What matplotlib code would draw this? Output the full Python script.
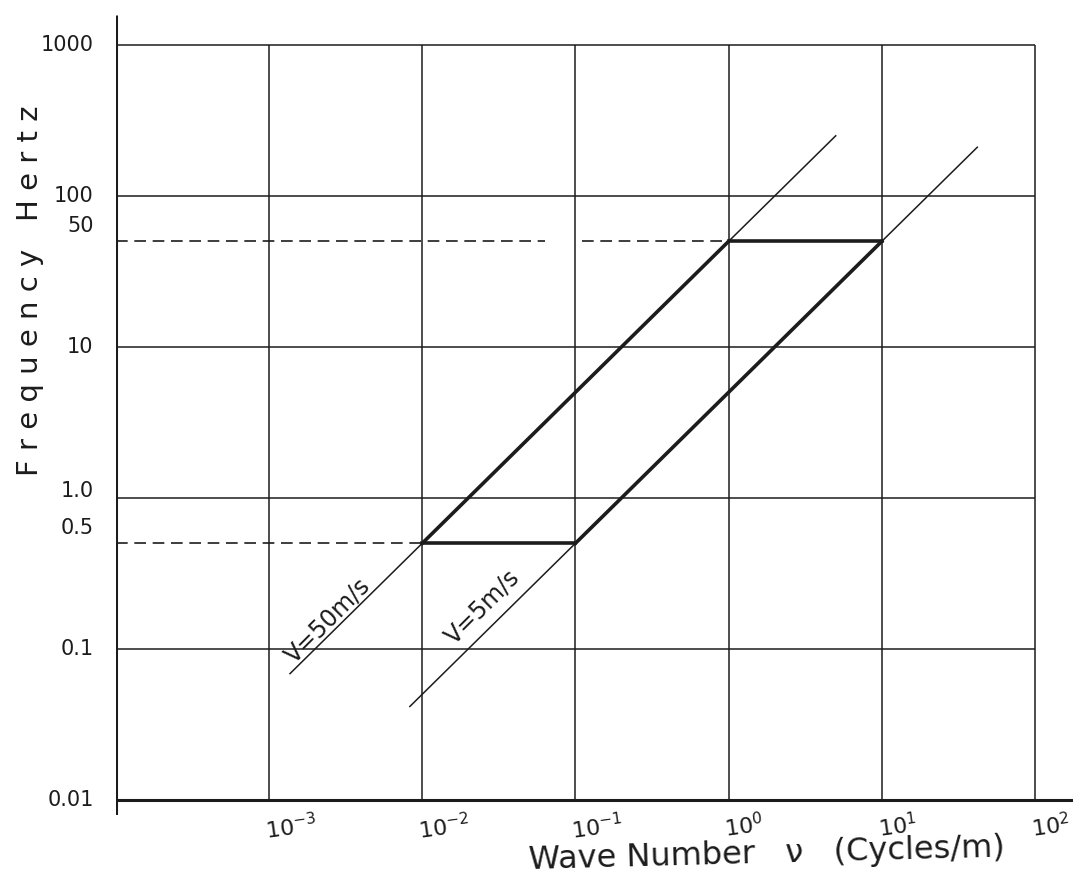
"""
Frequency vs wave number for two wind speeds (V = 50 m/s and V = 5 m/s),
f = V * k, with the 0.5 - 50 Hz band marked.
"""

import matplotlib.pyplot as plt
from matplotlib import transforms

# --- data -------------------------------------------------------------------
speeds = [50, 5]                       # m/s
speed_labels = ["V=50m/s", "V=5m/s"]
line_k_ranges = [(0.00137, 5.0), (0.0083, 42.0)]   # extent of the thin lines
label_k = [0.00242, 0.0249]            # where the speed label sits
label_f = [0.155, 0.19]

band_f = [0.5, 50]                     # Hz, bounds of the band of interest
band_k_50 = (0.01, 1.0)                # V=50 segment inside the band
band_k_5 = (0.1, 10.0)                 # V=5 segment inside the band

dash_50_segments = [(1e-4, 0.063), (0.11, 1.0)]
dash_05_segments = [(1e-4, 0.01)]

ygrid = [0.1, 1, 10, 100, 1000]
xgrid = [1e-3, 1e-2, 1e-1, 1e0, 1e1, 1e2]
ytick_vals = [1000, 100, 50, 10, 1.0, 0.5, 0.1, 0.01]
ytick_text = ["1000", "100", "50", "10", "1.0", "0.5", "0.1", "0.01"]
xtick_text = ["$10^{-3}$", "$10^{-2}$", "$10^{-1}$", "$10^{0}$", "$10^{1}$", "$10^{2}$"]

INK = '#1c1c1c'

fig = plt.figure(figsize=(10.73, 8.8), dpi=100)
ax = fig.add_axes([0.108, 0.074, 0.892, 0.911])
ax.set_xscale('log')
ax.set_yscale('log')
ax.set_xlim(1e-4, 10 ** 2.248)
ax.set_ylim(10 ** -2.1, 10 ** 3.21)
ax.axis('off')

# grid
ax.hlines(ygrid, 1e-4, 1e2, color=INK, lw=1.1)
ax.vlines(xgrid, 0.01, 1000, color=INK, lw=1.1)

# axes lines
ax.vlines(1e-4, 10 ** -2.1, 10 ** 3.2, color=INK, lw=2.2)
ax.hlines(0.01, 10 ** -4.05, 10 ** 2.25, color=INK, lw=2.2)
ax.hlines(1000, 10 ** -4.05, 1e-4, color=INK, lw=1.1)

# dashed reference levels
for k0, k1 in dash_50_segments:
    ax.plot([k0, k1], [band_f[1], band_f[1]], color=INK, lw=1.2, dashes=(7, 4))
for k0, k1 in dash_05_segments:
    ax.plot([k0, k1], [band_f[0], band_f[0]], color=INK, lw=1.2, dashes=(7, 4))

# thin f = V k lines
for v, (k0, k1) in zip(speeds, line_k_ranges):
    ax.plot([k0, k1], [v * k0, v * k1], color=INK, lw=1.1)

# thick band outline
ax.plot(band_k_50, [speeds[0] * k for k in band_k_50], color=INK, lw=2.6)
ax.plot(band_k_5, [speeds[1] * k for k in band_k_5], color=INK, lw=2.6)
ax.plot([band_k_50[0], band_k_5[0]], [band_f[0]] * 2, color=INK, lw=2.6)
ax.plot([band_k_50[1], band_k_5[1]], [band_f[1]] * 2, color=INK, lw=2.6)

# speed labels along the lines
for txt, k, f in zip(speed_labels, label_k, label_f):
    ax.text(k, f, txt, rotation=45, ha='center', va='center', fontsize=17,
            color=INK, rotation_mode='anchor')

# y tick labels (a few sit a little above their level, as in the sketch)
lift = {"50": 4, "0.5": 4, "1.0": 5}
for val, txt in zip(ytick_vals, ytick_text):
    off = transforms.offset_copy(ax.transData, fig=fig, x=-16,
                                 y=lift.get(txt, 0), units='points')
    ax.text(1e-4, val, txt, transform=off, ha='right',
            va='bottom' if txt in ("50", "0.5") else 'center',
            fontsize=15, color=INK, clip_on=False)

# x tick labels
for val, txt in zip(xgrid, xtick_text):
    off = transforms.offset_copy(ax.transData, fig=fig, x=-4, y=-8, units='points')
    ax.text(val, 0.01, txt, transform=off, ha='left', va='top', fontsize=16,
            rotation=8, color=INK, clip_on=False)

# axis titles
fig.text(0.028, 0.67, "F r e q u e n c y   H e r t z", rotation=90, ha='center',
         va='center', fontsize=21, color=INK)
fig.text(0.715, 0.029, "Wave Number   ν   (Cycles/m)", rotation=1.5, ha='center',
         va='center', fontsize=23, color=INK)

plt.savefig('out.png', dpi=100)
